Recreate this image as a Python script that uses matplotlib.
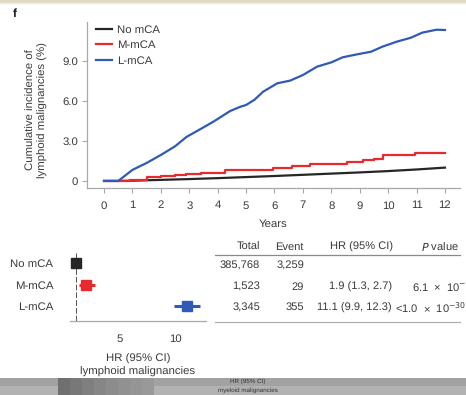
import matplotlib
matplotlib.use("Agg")
import matplotlib.pyplot as plt
from matplotlib.patches import Rectangle
from matplotlib.lines import Line2D

plt.rcParams['font.family'] = ['Liberation Sans', 'DejaVu Sans']
plt.rcParams['text.hinting'] = 'no_hinting'

# cumulative incidence curves (%)
years_none = [0, 0.5, 1, 2, 3, 4, 5, 6, 7, 8, 9, 10, 11, 12]
inc_none = [0, 0, 0.02, 0.08, 0.14, 0.21, 0.29, 0.37, 0.46, 0.55, 0.64, 0.74, 0.86, 1.0]

years_m = [0, 0.55, 0.9, 1.27, 1.5, 2.0, 2.5, 2.9, 3.4, 3.85, 4.27, 5.95, 6.6, 7.25,
           8.55, 9.1, 9.5, 9.83, 10.95, 12]
inc_m = [0, 0, 0.05, 0.1, 0.33, 0.4, 0.46, 0.53, 0.58, 0.63, 0.83, 0.95, 1.1, 1.25,
         1.4, 1.58, 1.65, 1.95, 2.12, 2.12]

years_l = [0, 0.5, 1.0, 1.5, 2.0, 2.5, 2.9, 3.4, 3.85, 4.44, 4.8, 5.0, 5.3, 5.6, 6.1,
           6.55, 7.0, 7.5, 8.0, 8.4, 8.9, 9.4, 9.8, 10.3, 10.8, 11.2, 11.7, 12]
inc_l = [0, 0, 0.83, 1.35, 1.95, 2.6, 3.3, 3.9, 4.45, 5.25, 5.57, 5.7, 6.1, 6.7, 7.33,
         7.53, 7.95, 8.58, 8.9, 9.28, 9.5, 9.7, 10.08, 10.45, 10.75, 11.13, 11.35, 11.33]

groups = ['No mCA', 'M-mCA', 'L-mCA']
colors = ['#262626', '#e62a2e', '#2f5ab5']

# forest plot
hr = [1.0, 1.9, 11.1]
hr_lo = [1.0, 1.3, 9.9]
hr_hi = [1.0, 2.7, 12.3]

# table
totals = ['385,768', '1,523', '3,345']
events = ['3,259', '29', '355']
hr_text = ['', '1.9 (1.3, 2.7)', '11.1 (9.9, 12.3)']
p_text = ['', r'6.1  ×  10$^{-7}$', r'<1.0  ×  10$^{-30}$']

W, H = 466, 395
fig = plt.figure(figsize=(W / 100, H / 100), dpi=100)
txt = '#3a3a3a'
spc = '#a8a8a8'
fsz = 8.2


def fx(x):
    return x / W


def fy(y):
    return 1 - y / H


# ---- top panel
ax = fig.add_axes([fx(87), fy(188), fx(373), 166 / H])
for t, v, c, g in zip([years_none, years_m, years_l], [inc_none, inc_m, inc_l], colors, groups):
    ds = 'steps-post' if g == 'M-mCA' else 'default'
    ax.plot(t, v, color=c, lw=1.6, drawstyle=ds, label=g)
ax.set_xlim(-0.6, 12.53)
ax.set_ylim(-0.53, 11.93)
ax.set_xticks(range(0, 13))
ax.set_yticks([0, 3, 6, 9])
ax.set_yticklabels(['0', '3.0', '6.0', '9.0'])
for s in ['top', 'right']:
    ax.spines[s].set_visible(False)
for s in ['left', 'bottom']:
    ax.spines[s].set_color(spc)
    ax.spines[s].set_linewidth(0.9)
ax.tick_params(colors=spc, labelcolor=txt, labelsize=fsz, length=3.5, width=0.8)
ax.tick_params(axis='x', pad=5.5)
ax.tick_params(axis='y', pad=3)
ax.set_xlabel('Years', fontsize=fsz, color=txt, labelpad=6)
fig.text(fx(37), fy(110), 'Cumulative incidence of\nlymphoid malignancies (%)',
         rotation=90, ha='center', va='center', fontsize=fsz, color=txt, linespacing=1.15)
ax.legend(loc='upper left', bbox_to_anchor=(fx(96), fy(25)), bbox_transform=fig.transFigure,
          frameon=False, fontsize=fsz, handlelength=1.4, handletextpad=0.45,
          labelspacing=0.45, borderpad=0, borderaxespad=0, labelcolor=txt)
fig.text(fx(13), fy(14), 'f', fontsize=8.5, fontweight='bold', color='#111', va='center')

# ---- forest plot
fa = fig.add_axes([fx(70), fy(321), fx(136), 70 / H])
ypos = [2, 1, 0]
fa.axvline(1, color='#555', lw=0.7, dashes=(6, 2))
for y, h, lo, hi, c in zip(ypos, hr, hr_lo, hr_hi, colors):
    fa.plot([lo, hi], [y, y], color=c, lw=2.2, solid_capstyle='butt')
    fa.plot([h], [y], marker='s', ms=7, color=c, mec=c)
fa.set_xlim(0.45, 12.82)
fa.set_ylim(-0.7, 2.58)
fa.set_yticks(ypos)
fa.set_yticklabels(groups)
fa.set_xticks([5, 10])
for s in ['top', 'right', 'left']:
    fa.spines[s].set_visible(False)
fa.spines['bottom'].set_color(spc)
fa.spines['bottom'].set_linewidth(0.9)
fa.tick_params(axis='y', length=0, pad=12, labelsize=fsz, labelcolor=txt)
fa.tick_params(axis='x', length=0, pad=9, labelsize=fsz, labelcolor=txt)
fa.set_xlabel('HR (95% CI)\nlymphoid malignancies', fontsize=fsz, color=txt,
              labelpad=7, linespacing=1.35)

# ---- table
fs = 8.0
hy = 247
fig.text(fx(260), fy(hy), 'Total', ha='right', va='center', fontsize=fs, color=txt)
fig.text(fx(304), fy(hy), 'Event', ha='right', va='center', fontsize=fs, color=txt)
fig.text(fx(362), fy(hy), 'HR (95% CI)', ha='center', va='center', fontsize=fs, color=txt)
fig.text(fx(459), fy(hy), r'$\it{P}$ value', ha='right', va='center', fontsize=fs, color=txt)
fig.add_artist(Line2D([fx(215), fx(460)], [fy(254.5), fy(254.5)], color='#8a8a8a', lw=0.9))
fig.add_artist(Line2D([fx(215), fx(460)], [fy(321.5), fy(321.5)], color='#b0b0b0', lw=0.9))
rows_y = [266, 287, 307.5]
p_x = [None, 412, 395]
for i, ry in enumerate(rows_y):
    fig.text(fx(260), fy(ry), totals[i], ha='right', va='center', fontsize=fs, color=txt)
    fig.text(fx(304), fy(ry), events[i], ha='right', va='center', fontsize=fs, color=txt)
    if hr_text[i]:
        fig.text(fx(392), fy(ry), hr_text[i], ha='right', va='center', fontsize=fs, color=txt)
        fig.text(fx(p_x[i]), fy(ry), p_text[i], ha='left', va='center', fontsize=fs, color=txt)

# ---- cropped page edges
for k, a in enumerate([0.9, 0.6, 0.35, 0.15]):
    fig.add_artist(Rectangle((0, fy(k + 1.5)), 1, 1.5 / H, transform=fig.transFigure,
                             color='#ddd6bc', alpha=a, lw=0))
fig.add_artist(Rectangle((0, 0), 1, fy(378), transform=fig.transFigure, color='#b2b2b2', lw=0))
fig.add_artist(Rectangle((0, fy(386)), 1, 8 / H, transform=fig.transFigure, color='#a2a2a2', lw=0))
shades = ['#707070', '#787878', '#7f7f7f', '#868686', '#8c8c8c', '#919191', '#959595', '#999999']
for k, c in enumerate(shades):
    fig.add_artist(Rectangle((fx(58 + k * 12), 0), fx(12), fy(378), transform=fig.transFigure,
                             color=c, lw=0))
fig.text(fx(248), fy(381.5), 'HR (95% CI)', ha='center', va='center', fontsize=4.5, color='#333')
fig.text(fx(248), fy(390.5), 'myeloid malignancies', ha='center', va='center', fontsize=4.5, color='#333')

fig.savefig('out.png', dpi=100)
